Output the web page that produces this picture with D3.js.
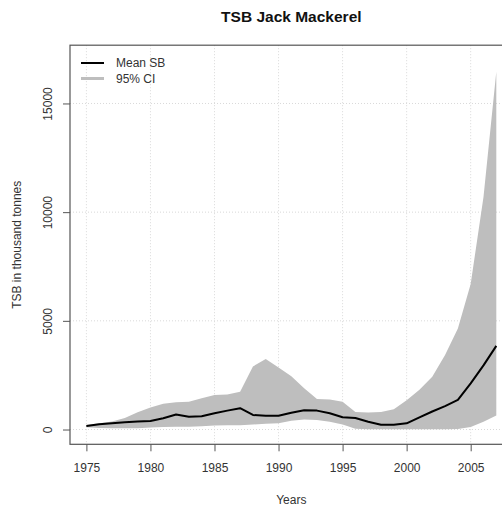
<!DOCTYPE html>
<html>
<head>
<meta charset="utf-8">
<script src="https://cdn.jsdelivr.net/npm/d3@7"></script>
<style>
  html, body { margin: 0; padding: 0; background: #fff; }
  svg { display: block; font-family: "Liberation Sans", Arial, sans-serif; }
</style>
</head>
<body>
<svg id="chart" width="502" height="513"></svg>
<script>
const years = d3.range(1975, 2008);
const meanSB = [161, 239, 290, 335, 365, 391, 515, 690, 590, 610, 750, 870, 980, 670, 630, 630, 770, 890, 870, 750, 565, 530, 360, 222, 222, 285, 560, 830, 1075, 1360, 2125, 2950, 3850];
const upperCI = [207, 285, 370, 530, 790, 1010, 1180, 1260, 1280, 1440, 1590, 1610, 1740, 2900, 3240, 2850, 2450, 1900, 1400, 1380, 1280, 810, 780, 805, 930, 1350, 1830, 2430, 3430, 4650, 6700, 10700, 16460];
const lowerCI = [110, 70, 60, 55, 55, 90, 120, 130, 130, 150, 190, 200, 200, 230, 260, 285, 400, 465, 435, 360, 230, 40, 10, 10, 10, 10, 10, 10, 10, 20, 120, 360, 650];
const xTicks = [1975, 1980, 1985, 1990, 1995, 2000, 2005];
const yTicks = [0, 5000, 10000, 15000];
const legendLabels = ["Mean SB", "95% CI"];

const data = years.map((y, i) => ({ year: y, mean: meanSB[i], lo: lowerCI[i], hi: upperCI[i] }));

const svg = d3.select("#chart");
const pL = 70, pR = 512.7, pT = 45.2, pB = 444.3;

// R-style 4% axis extension
const xr = [1975, 2007], xe = (xr[1] - xr[0]) * 0.04;
const yr = [0, 17000], ye = (yr[1] - yr[0]) * 0.04;
const x = d3.scaleLinear().domain([xr[0] - xe, xr[1] + xe]).range([pL, pR]);
const y = d3.scaleLinear().domain([yr[0] - ye, yr[1] + ye]).range([pB, pT]);

// grid
const grid = svg.append("g").attr("stroke", "#d9d9d9").attr("stroke-width", 1).attr("stroke-dasharray", "1,2");
grid.selectAll("line.v").data(xTicks).join("line")
  .attr("x1", d => x(d)).attr("x2", d => x(d)).attr("y1", pT).attr("y2", pB);
grid.selectAll("line.h").data(yTicks).join("line")
  .attr("y1", d => y(d)).attr("y2", d => y(d)).attr("x1", pL).attr("x2", pR);

// CI polygon
svg.append("path").datum(data)
  .attr("fill", "#bebebe")
  .attr("d", d3.area().x(d => x(d.year)).y0(d => y(d.lo)).y1(d => y(d.hi)));

// mean line
svg.append("path").datum(data)
  .attr("fill", "none").attr("stroke", "#000").attr("stroke-width", 2)
  .attr("stroke-linejoin", "round")
  .attr("d", d3.line().x(d => x(d.year)).y(d => y(d.mean)));

// box
svg.append("rect").attr("x", pL).attr("y", pT).attr("width", pR - pL).attr("height", pB - pT)
  .attr("fill", "none").attr("stroke", "#555").attr("stroke-width", 1.2);

// x axis
const xAxis = svg.append("g").attr("transform", `translate(0,${pB})`)
  .call(d3.axisBottom(x).tickValues(xTicks).tickSize(7).tickPadding(12).tickFormat(d3.format("d")));
xAxis.select(".domain").remove();
xAxis.selectAll(".tick line").attr("stroke", "#555");
xAxis.selectAll(".tick text").attr("font-size", 12).attr("fill", "#333").attr("font-family", "Liberation Sans, Arial, sans-serif");

// y axis
const yAxis = svg.append("g").attr("transform", `translate(${pL},0)`)
  .call(d3.axisLeft(y).tickValues(yTicks).tickSize(7).tickFormat(d3.format("d")));
yAxis.select(".domain").remove();
yAxis.selectAll(".tick line").attr("stroke", "#555");
yAxis.selectAll(".tick text")
  .attr("font-size", 12).attr("fill", "#333").attr("font-family", "Liberation Sans, Arial, sans-serif")
  .attr("x", null).attr("dy", null)
  .attr("text-anchor", "middle").attr("dominant-baseline", "central")
  .attr("transform", "translate(-22,0) rotate(-90)");

// titles
svg.append("text").attr("x", (pL + pR) / 2).attr("y", 22).attr("text-anchor", "middle")
  .attr("font-size", 15.5).attr("font-weight", "bold").attr("fill", "#111").text("TSB Jack Mackerel");
svg.append("text").attr("x", (pL + pR) / 2).attr("y", 504).attr("text-anchor", "middle")
  .attr("font-size", 12).attr("fill", "#333").text("Years");
svg.append("text").attr("transform", `translate(17,${(pT + pB) / 2}) rotate(-90)`)
  .attr("text-anchor", "middle").attr("dominant-baseline", "central")
  .attr("font-size", 12).attr("fill", "#333").text("TSB in thousand tonnes");

// legend
const lg = svg.append("g");
const legendStyles = [{ c: "#000", w: 2 }, { c: "#bebebe", w: 3 }];
legendLabels.forEach((lab, i) => {
  const ly = 63 + i * 15.5;
  lg.append("line").attr("x1", 81).attr("x2", 104).attr("y1", ly).attr("y2", ly)
    .attr("stroke", legendStyles[i].c).attr("stroke-width", legendStyles[i].w);
  lg.append("text").attr("x", 116).attr("y", ly).attr("dominant-baseline", "central")
    .attr("font-size", 12).attr("fill", "#333").text(lab);
});
</script>
</body>
</html>
